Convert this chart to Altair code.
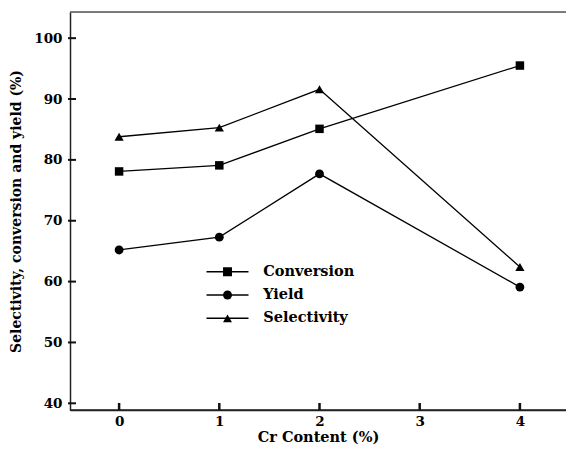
import altair as alt
import pandas as pd

# ---- data ----
cr_content = [0, 1, 2, 4]
conversion = [78.1, 79.1, 85.1, 95.5]
yield_vals = [65.2, 67.3, 77.7, 59.1]
selectivity = [83.8, 85.3, 91.6, 62.4]
series_names = ["Conversion", "Yield", "Selectivity"]
x_tick_values = [0, 1, 2, 3, 4]
y_tick_values = [40, 50, 60, 70, 80, 90, 100]

# keys for the legend line segments: distinct values so Vega-Lite keeps the two legends apart
line_keys = [name + " line" for name in series_names]

rows = []
for name, key, vals in zip(series_names, line_keys, [conversion, yield_vals, selectivity]):
    for c, v in zip(cr_content, vals):
        rows.append({"cr": c, "value": v, "series": name, "key": key})
df = pd.DataFrame(rows)

FONT = "DejaVu Serif"
W, H = 496, 398

x_scale = alt.Scale(domain=[-0.49, 4.46], nice=False, zero=False)
y_scale = alt.Scale(domain=[38.9, 104.3], nice=False, zero=False)

x_axis = alt.Axis(values=x_tick_values, format="d", ticks=False, tickSize=0, grid=False,
                  labelFont=FONT, labelFontSize=13.5, labelFontWeight="bold", labelColor="black",
                  labelPadding=4, labelAngle=0,
                  title="Cr Content (%)", titleFont=FONT, titleFontSize=14.5, titleFontWeight="bold",
                  titleColor="black", titlePadding=3,
                  domainColor="#222", domainWidth=1.5)
y_axis = alt.Axis(values=y_tick_values, format="d", ticks=False, tickSize=0, grid=False,
                  labelFont=FONT, labelFontSize=13.5, labelFontWeight="bold", labelColor="black",
                  labelPadding=8,
                  title="Selectivity, conversion and yield (%)", titleFont=FONT, titleFontSize=14,
                  titleFontWeight="bold", titleColor="black", titlePadding=10,
                  domainColor="#222", domainWidth=1.5)

base = alt.Chart(df).encode(
    x=alt.X("cr:Q", scale=x_scale, axis=x_axis),
    y=alt.Y("value:Q", scale=y_scale, axis=y_axis),
)

lines = base.mark_line(color="black", strokeWidth=1.3).encode(detail="series:N")

points = base.mark_point(filled=True, color="black", opacity=1).encode(
    shape=alt.Shape("series:N", scale=alt.Scale(domain=series_names,
                                                range=["square", "circle", "triangle-up"]),
                    legend=alt.Legend(title=None, orient="none", legendX=150.25, legendY=250.7,
                                      symbolSize=80, symbolFillColor="black",
                                      symbolOpacity=1, clipHeight=18, rowPadding=5.3,
                                      labelFont=FONT, labelFontSize=14.5, labelFontWeight="bold",
                                      labelColor="black", labelOffset=28.5, padding=0)),
    size=alt.Size("series:N", scale=alt.Scale(domain=series_names, range=[72, 85, 110]),
                  legend=None),
)

ghost_line = alt.Chart(df).transform_filter("false").mark_line(strokeWidth=1.4).encode(
    x=alt.X("cr:Q", scale=x_scale, axis=x_axis),
    y=alt.Y("value:Q", scale=y_scale, axis=y_axis),
    color=alt.Color("key:N", scale=alt.Scale(domain=line_keys,
                                             range=["black", "black", "black"]),
                    legend=alt.Legend(title=None, orient="none", legendX=135.5, legendY=250.7,
                                      symbolType="stroke", symbolSize=1764,
                                      symbolStrokeWidth=1.4, clipHeight=18, rowPadding=5.3,
                                      labelExpr="''", labelFontSize=14.5, padding=0)),
)

x_ticks_df = pd.DataFrame({"t": x_tick_values})
y_ticks_df = pd.DataFrame({"t": y_tick_values})
x_ticks = alt.Chart(x_ticks_df).mark_rule(color="#111", strokeWidth=2.5).encode(
    x=alt.X("t:Q", scale=x_scale, axis=x_axis), y=alt.value(H - 7), y2=alt.value(H))
y_ticks = alt.Chart(y_ticks_df).mark_rule(color="#111", strokeWidth=2).encode(
    y=alt.Y("t:Q", scale=y_scale, axis=y_axis), x=alt.value(-2), x2=alt.value(6))

frame_df = pd.DataFrame({"edge": ["top"]})
top_line = alt.Chart(frame_df).mark_rule(color="#555", strokeWidth=1.5).encode(
    x=alt.value(0), x2=alt.value(W), y=alt.value(0))
bottom_line = alt.Chart(frame_df).mark_rule(color="#222", strokeWidth=1.5).encode(
    x=alt.value(0), x2=alt.value(W), y=alt.value(H))

chart = alt.layer(top_line, bottom_line, x_ticks, y_ticks, lines, ghost_line, points).resolve_scale(
    size="independent"
).properties(
    width=W, height=H,
    autosize=alt.AutoSizeParams(type="none"),
    padding={"left": 62, "top": 4, "right": 0, "bottom": 36},
).configure_view(stroke="transparent", strokeWidth=0).configure(background="white", font=FONT)

chart.save("out.html", embed_options={"renderer": "svg", "actions": False})
